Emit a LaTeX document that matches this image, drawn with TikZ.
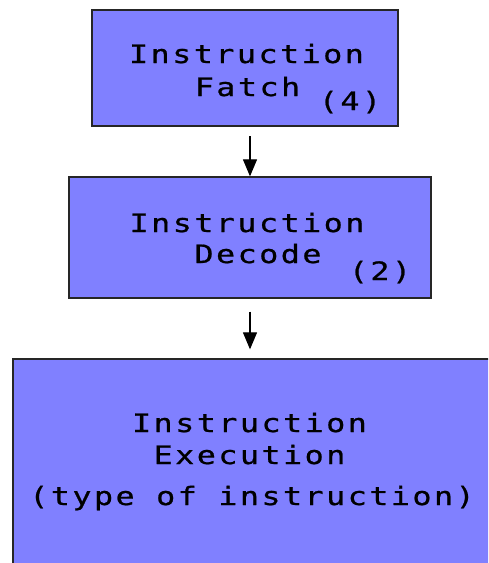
\documentclass[tikz,border=0pt]{standalone}
\usepackage{fontspec}
\usetikzlibrary{arrows.meta}
\newfontfamily\stagefont[FakeStretch=1.25,LetterSpace=10,FakeBold=0.8]{DejaVu Sans Mono}
\definecolor{StageBlue}{RGB}{128,128,255}

\begin{document}
\begin{tikzpicture}[x=1pt,y=-1pt,
  stagebox/.style={draw=black!85,line width=1.3pt,fill=StageBlue,inner sep=0pt},
  stagetext/.style={inner sep=0pt,anchor=base,font=\stagefont\fontsize{25.3}{30}\selectfont},
  flow/.style={-{Triangle[length=17pt,width=14pt]},line width=1.2pt}]
  \useasboundingbox[fill=white] (0,0) rectangle (488,563);
  \clip (0,0) rectangle (488,563);

  % the three pipeline stages
  \node[stagebox,minimum width=306pt,minimum height=116pt] (fetch) at (245,68) {};
  \node[stagebox,minimum width=362pt,minimum height=121pt] (decode) at (250,237.5) {};
  \node[stagebox,minimum width=487pt,minimum height=241pt] (exec) at (256.5,479.5) {};

  % stage labels, cycle counts set lower
  \node[stagetext] (fetchname) at (246.5,63) {Instruction};
  \node[stagetext] (fetchword) at (247.5,96) {Fatch};
  \node[stagetext] (fetchcount) at (350,110) {(4)};
  \node[stagetext] (decodename) at (247,232) {Instruction};
  \node[stagetext] (decodeword) at (258,263) {Decode};
  \node[stagetext] (decodecount) at (380,280) {(2)};
  \node[stagetext] (execname) at (249.5,432) {Instruction};
  \node[stagetext] (execword) at (249.5,464) {Execution};
  \node[stagetext] (exectype) at (252,505) {(type of instruction)};

  % arrows between stages
  \draw[flow] ([yshift=40pt]decode.north) -- (decode.north);
  \draw[flow] ([yshift=-13pt]decode.south) -- ([yshift=9pt]decode.south |- exec.north);
\end{tikzpicture}
\end{document}
